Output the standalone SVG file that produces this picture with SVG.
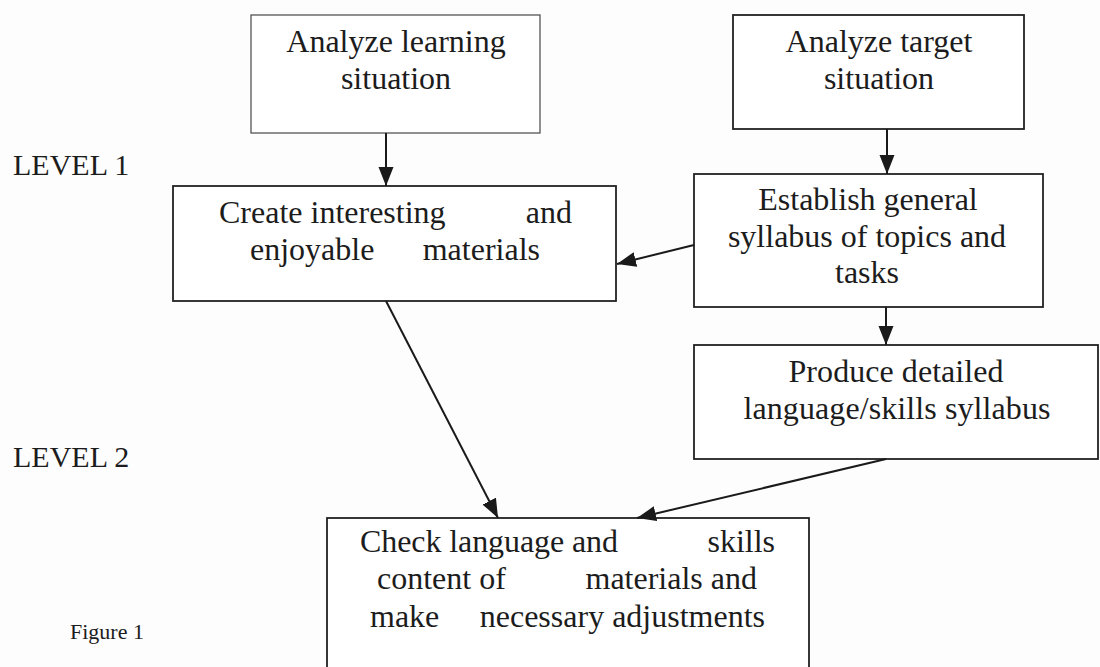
<svg xmlns="http://www.w3.org/2000/svg" width="1100" height="667" viewBox="0 0 1100 667">
  <style>
    .box { fill: #ffffff; stroke: #222; stroke-width: 1.8; }
    .thin { stroke: #555; stroke-width: 1.3; }
    .t { font-family: "Liberation Serif", "Times New Roman", serif; font-size: 32px; fill: #1c1c1c; }
    .mid { text-anchor: middle; }
    .end { text-anchor: end; }
    .lbl { font-family: "Liberation Serif", "Times New Roman", serif; font-size: 30px; fill: #1c1c1c; }
    .cap { font-family: "Liberation Serif", "Times New Roman", serif; font-size: 22px; fill: #1c1c1c; }
    .link { stroke: #1a1a1a; stroke-width: 2; fill: none; marker-end: url(#head); }
  </style>
  <defs>
    <marker id="head" markerUnits="userSpaceOnUse" markerWidth="20" markerHeight="16" refX="19" refY="8" orient="auto">
      <path d="M0,0.5 L19,8 L0,15.5 Z" fill="#1a1a1a"/>
    </marker>
  </defs>

  <rect width="1100" height="667" fill="#fdfdfd"/>

  <!-- side labels -->
  <text class="lbl" x="13" y="175">LEVEL 1</text>
  <text class="lbl" x="13" y="467">LEVEL 2</text>
  <text class="cap" x="70" y="639">Figure 1</text>

  <g id="learning">
    <rect class="box thin" x="251" y="15" width="289" height="118"/>
    <text class="t mid" x="396" y="52">Analyze learning</text>
    <text class="t mid" x="396" y="89">situation</text>
  </g>

  <g id="target">
    <rect class="box" x="733" y="15" width="291" height="114"/>
    <text class="t mid" x="879" y="52">Analyze target</text>
    <text class="t mid" x="879" y="89">situation</text>
  </g>

  <g id="materials">
    <rect class="box" x="173" y="186" width="443" height="115"/>
    <text class="t" x="219" y="223">Create interesting</text>
    <text class="t end" x="572" y="223">and</text>
    <text class="t" x="250" y="260">enjoyable</text>
    <text class="t end" x="540" y="260">materials</text>
  </g>

  <g id="syllabus">
    <rect class="box" x="694" y="174" width="349" height="133"/>
    <text class="t mid" x="868" y="210">Establish general</text>
    <text class="t mid" x="867" y="247">syllabus of topics and</text>
    <text class="t mid" x="867" y="283">tasks</text>
  </g>

  <g id="detailed">
    <rect class="box" x="694" y="345" width="404" height="114"/>
    <text class="t mid" x="896" y="382" textLength="215">Produce detailed</text>
    <text class="t mid" x="897" y="419" textLength="307">language/skills syllabus</text>
  </g>

  <g id="check">
    <rect class="box" x="327" y="518" width="482" height="160"/>
    <text class="t" x="360" y="552" textLength="258">Check language and</text>
    <text class="t end" x="775" y="552">skills</text>
    <text class="t" x="377" y="589">content of</text>
    <text class="t end" x="757" y="589">materials and</text>
    <text class="t" x="370" y="627">make</text>
    <text class="t end" x="765" y="627">necessary adjustments</text>
  </g>

  <g id="connectors">
    <line class="link" x1="386" y1="133" x2="386" y2="186"/>
    <line class="link" x1="887" y1="129" x2="887" y2="174"/>
    <line class="link" x1="694" y1="245" x2="617" y2="264"/>
    <line class="link" x1="886" y1="307" x2="886" y2="345"/>
    <line class="link" x1="386" y1="301" x2="498" y2="518"/>
    <line class="link" x1="886" y1="459" x2="637" y2="518"/>
  </g>
</svg>
